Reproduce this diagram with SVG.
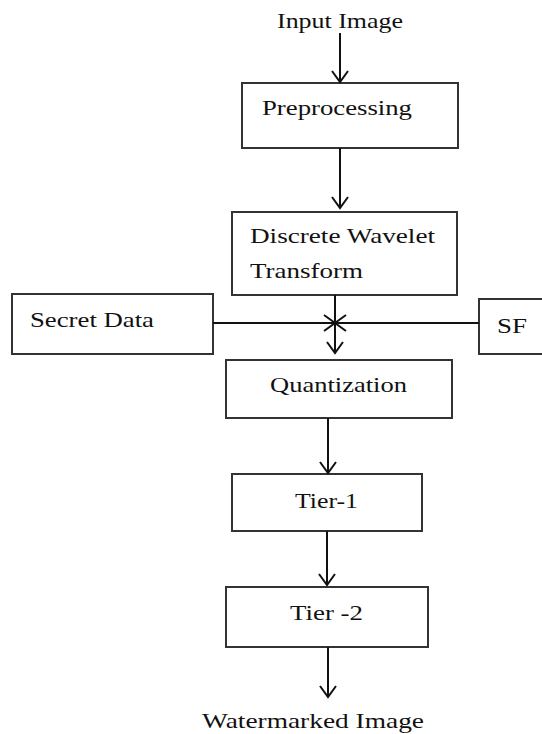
<svg xmlns="http://www.w3.org/2000/svg" width="542" height="734" viewBox="0 0 542 734">
<style>
.box{fill:#fff;stroke:#333;stroke-width:2}
.t{font-family:"Liberation Serif","Times New Roman",serif;font-size:21px;fill:#111}
.c{stroke:#111;stroke-width:2;fill:none}
</style>
<defs>
<marker id="ah" markerUnits="userSpaceOnUse" markerWidth="24" markerHeight="24" viewBox="-12 -12 24 24" refX="0" refY="0" orient="auto">
<path d="M-11,-8 L0,0 L-11,8" fill="none" stroke="#111" stroke-width="2"/>
</marker>
</defs>
<rect width="542" height="734" fill="#fff"/>
<g id="input"><text class="t" x="277" y="28" textLength="126" lengthAdjust="spacingAndGlyphs">Input Image</text></g>
<g id="preprocessing"><rect class="box" x="242" y="83" width="216" height="65"/><text class="t" x="262" y="115" textLength="150" lengthAdjust="spacingAndGlyphs">Preprocessing</text></g>
<g id="dwt"><rect class="box" x="232" y="212" width="225" height="83"/><text class="t" x="250" y="243" textLength="185" lengthAdjust="spacingAndGlyphs">Discrete Wavelet</text><text class="t" x="250" y="278" textLength="113" lengthAdjust="spacingAndGlyphs">Transform</text></g>
<g id="secret"><rect class="box" x="12" y="294" width="201" height="60"/><text class="t" x="30" y="327" textLength="124" lengthAdjust="spacingAndGlyphs">Secret Data</text></g>
<g id="sf"><rect class="box" x="479" y="299" width="80" height="55"/><text class="t" x="497" y="333" textLength="30" lengthAdjust="spacingAndGlyphs">SF</text></g>
<g id="quantization"><rect class="box" x="226" y="360" width="226" height="58"/><text class="t" x="270" y="392" textLength="137" lengthAdjust="spacingAndGlyphs">Quantization</text></g>
<g id="tier1"><rect class="box" x="232" y="474" width="190" height="57"/><text class="t" x="295" y="508" textLength="63" lengthAdjust="spacingAndGlyphs">Tier-1</text></g>
<g id="tier2"><rect class="box" x="226" y="587" width="202" height="60"/><text class="t" x="290" y="620" textLength="73" lengthAdjust="spacingAndGlyphs">Tier -2</text></g>
<g id="output"><text class="t" x="202" y="728" textLength="222" lengthAdjust="spacingAndGlyphs">Watermarked Image</text></g>
<g id="connectors">
<line class="c" x1="340" y1="33" x2="340" y2="82" marker-end="url(#ah)"/>
<line class="c" x1="340" y1="148" x2="340" y2="208" marker-end="url(#ah)"/>
<line class="c" x1="335" y1="295" x2="335" y2="353" marker-end="url(#ah)"/>
<line class="c" x1="213" y1="323" x2="335" y2="323" marker-end="url(#ah)"/>
<line class="c" x1="479" y1="323" x2="335" y2="323" marker-end="url(#ah)"/>
<line class="c" x1="328" y1="418" x2="328" y2="473" marker-end="url(#ah)"/>
<line class="c" x1="327" y1="531" x2="327" y2="585" marker-end="url(#ah)"/>
<line class="c" x1="328" y1="647" x2="328" y2="697" marker-end="url(#ah)"/>
</g>
</svg>
